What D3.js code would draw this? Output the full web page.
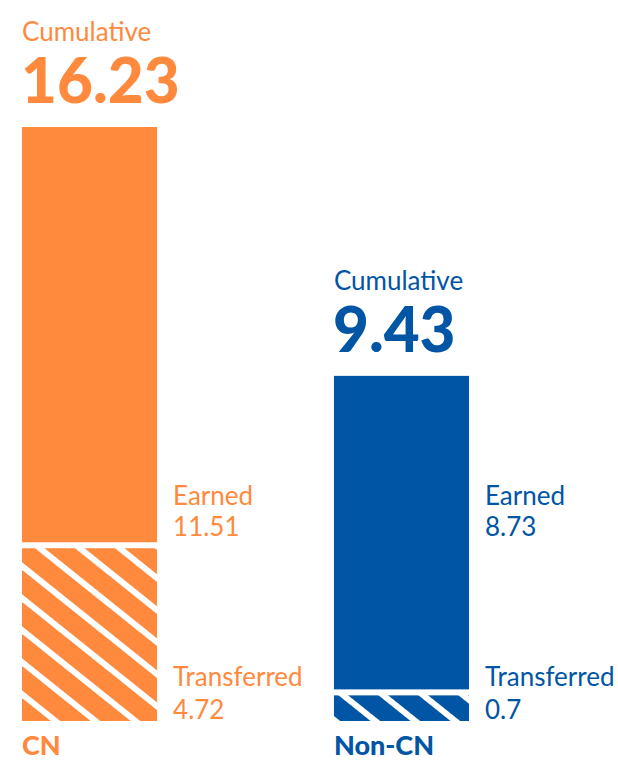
<!DOCTYPE html>
<html>
<head>
<meta charset="utf-8">
<script src="https://cdn.jsdelivr.net/npm/d3@7"></script>
<style>
  html, body { margin: 0; padding: 0; background: #fff; }
  svg { display: block; font-family: Lato, "Noto Sans", sans-serif; }
</style>
</head>
<body>
<svg id="chart" width="618" height="762"></svg>
<script>
/* ======================== DATA ========================= */
const categories  = ["CN", "Non-CN"];
const earned      = [11.51, 8.73];
const transferred = [4.72, 0.7];
const cumulative  = [16.23, 9.43];
const colors      = ["#FF893D", "#0055A4"];

/* ======================= LAYOUT ======================== */
const svg = d3.select("#chart");
const gap = 6;

const x = d3.scaleBand()
            .domain(categories)
            .range([22, 469])
            .paddingInner(0.567)
            .paddingOuter(0);

const y = d3.scaleLinear()
            .domain([0, 16.23])
            .range([721, 127]);

const rows = categories.map((c, i) => ({
    cat: c, earned: earned[i], transferred: transferred[i],
    total: cumulative[i], color: colors[i], i: i
}));

/* ====================== PATTERNS ======================= */
const defs = svg.append("defs");
rows.forEach(d => {
    const p = defs.append("pattern")
                  .attr("id", "hatch" + d.i)
                  .attr("patternUnits", "userSpaceOnUse")
                  .attr("width", 25)
                  .attr("height", 25)
                  .attr("patternTransform", "rotate(38.7)");
    p.append("rect").attr("width", 25).attr("height", 25).attr("fill", d.color);
    p.append("rect").attr("y", 0).attr("width", 25).attr("height", 6).attr("fill", "#fff");
});

/* ======================== BARS ========================= */
const bars = svg.append("g").attr("id", "bars");

bars.selectAll("rect.earned")
    .data(rows)
    .join("rect")
    .attr("class", "earned")
    .attr("x", d => x(d.cat))
    .attr("width", x.bandwidth())
    .attr("y", d => y(d.total))
    .attr("height", d => y(d.transferred) - gap - y(d.total))
    .attr("fill", d => d.color);

bars.selectAll("rect.transferred")
    .data(rows)
    .join("rect")
    .attr("class", "transferred")
    .attr("x", d => x(d.cat))
    .attr("width", x.bandwidth())
    .attr("y", d => y(d.transferred))
    .attr("height", d => y(0) - y(d.transferred))
    .attr("fill", d => "url(#hatch" + d.i + ")");

/* ======================= LABELS ======================== */
const labels = svg.append("g").attr("id", "labels");
const earnedBase = y(d3.max(transferred)) - gap;
const labelX = d => x(d.cat) + x.bandwidth() + 16;

rows.forEach(d => {
    const g = labels.append("g").attr("fill", d.color);

    // cumulative header
    g.append("text")
     .attr("x", x(d.cat))
     .attr("y", y(d.total) - 86)
     .attr("font-size", 26)
     .text("Cumulative");
    g.append("text")
     .attr("x", x(d.cat) - 1)
     .attr("y", y(d.total) - 24)
     .attr("font-size", 62)
     .attr("font-weight", 900)
     .text(d.total);

    // earned
    g.append("text")
     .attr("x", labelX(d))
     .attr("y", earnedBase - 37)
     .attr("font-size", 26)
     .text("Earned");
    g.append("text")
     .attr("x", labelX(d))
     .attr("y", earnedBase - 6)
     .attr("font-size", 26)
     .text(d.earned);

    // transferred
    g.append("text")
     .attr("x", labelX(d))
     .attr("y", y(0) - 35)
     .attr("font-size", 26)
     .text("Transferred");
    g.append("text")
     .attr("x", labelX(d))
     .attr("y", y(0) - 2)
     .attr("font-size", 26)
     .text(d.transferred);

    // category
    g.append("text")
     .attr("x", x(d.cat))
     .attr("y", 755)
     .attr("font-size", 27)
     .attr("font-weight", 900)
     .text(d.cat);
});
</script>
</body>
</html>
